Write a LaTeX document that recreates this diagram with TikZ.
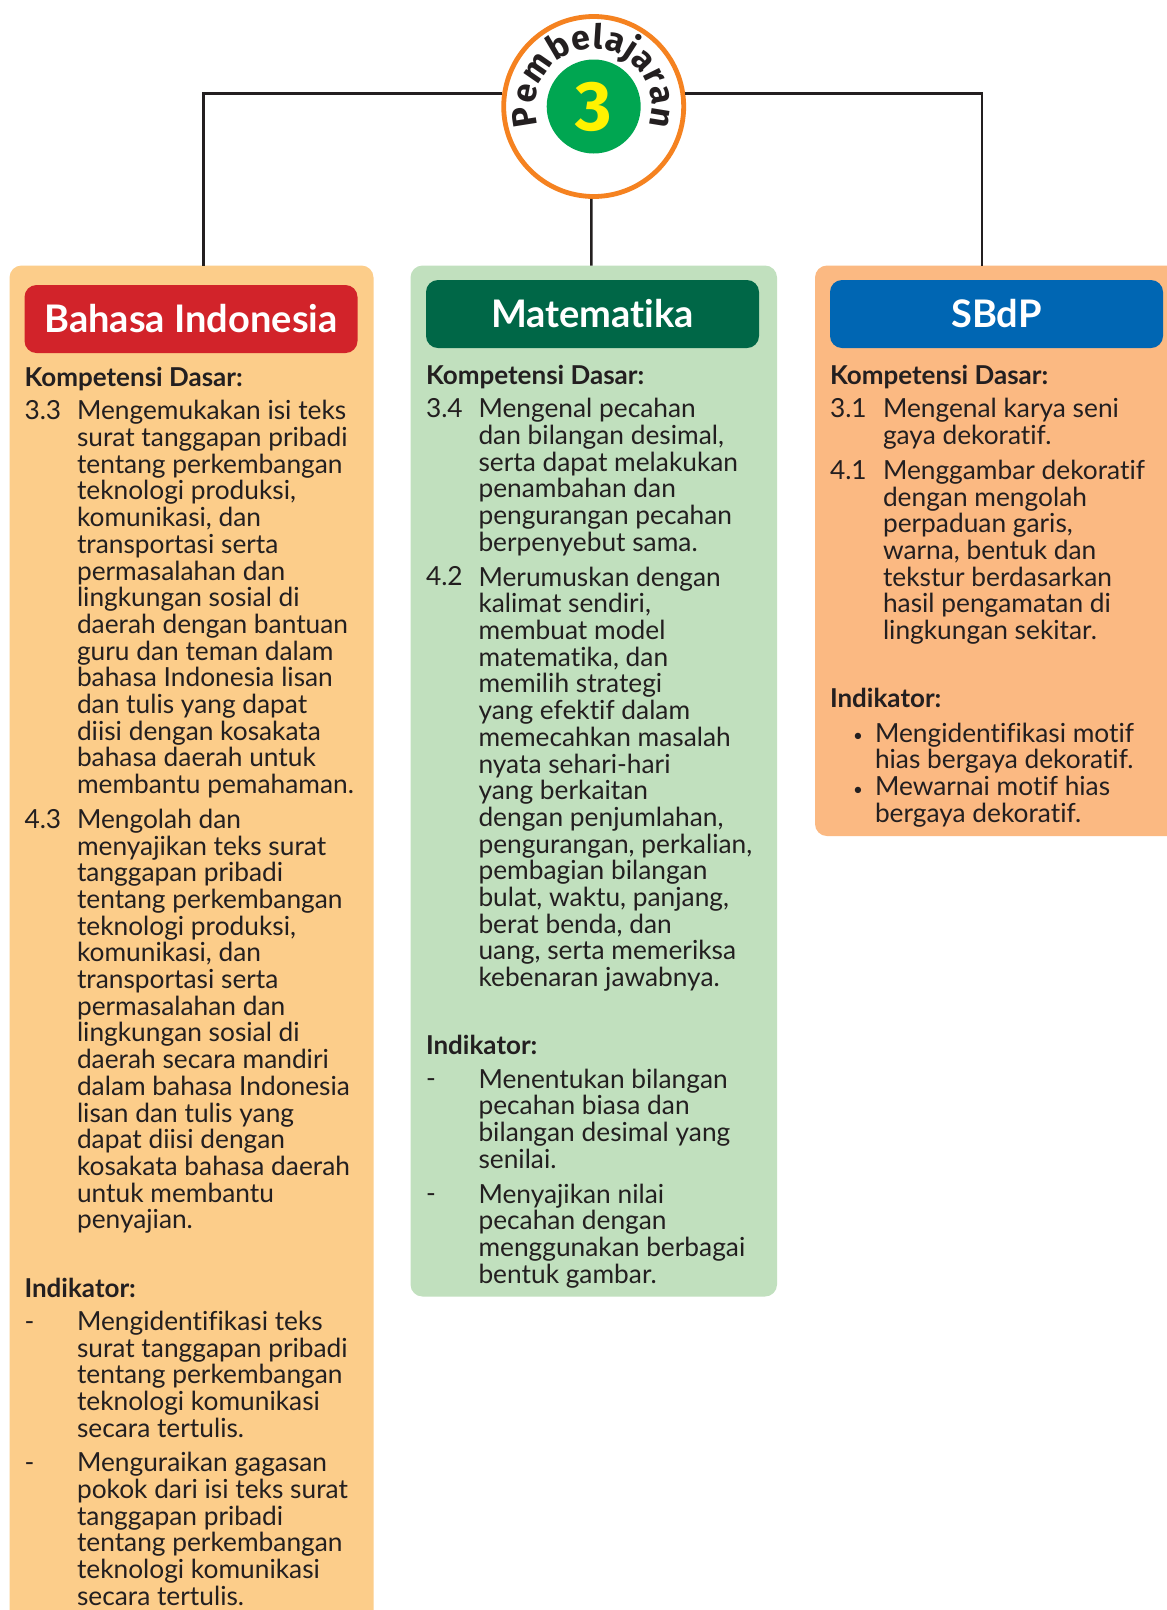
\documentclass[tikz,border=0pt]{standalone}
\usepackage{fontspec}
\setmainfont{Lato}[Ligatures=NoCommon]
\newfontfamily\arcfont{Fira Sans}
\usetikzlibrary{decorations.text,calc}
\definecolor{inkc}{HTML}{231F20}
\definecolor{panelA}{HTML}{FCCD8A}
\definecolor{panelB}{HTML}{C1E0BE}
\definecolor{panelC}{HTML}{FBB982}
\definecolor{headA}{HTML}{D2232A}
\definecolor{headB}{HTML}{006747}
\definecolor{headC}{HTML}{0066B3}
\definecolor{ringc}{HTML}{F58220}
\definecolor{numg}{HTML}{00A651}
\definecolor{numy}{HTML}{FFF200}
\newcommand{\fl}{\rule{0pt}{19pt}}
\tikzset{
  x=1pt,y=-1pt,
  panel/.style={rectangle,rounded corners=12pt,draw=none,inner sep=0,outer sep=0,anchor=north west},
  head/.style={rectangle,rounded corners=12pt,draw=none,inner sep=0,outer sep=0,text=white,font=\fontsize{38}{40}\selectfont\bfseries,minimum height=68pt},
  body/.style={inner sep=0,outer sep=0,anchor=north west,align=left,text=inkc,yshift=-2.5pt,font=\fontsize{26.3}{26.7}\selectfont},
  subhead/.style={body,font=\fontsize{26}{26.7}\selectfont\bfseries},
  dotitem/.style={body,font=\fontsize{17}{26.7}\selectfont},
  link/.style={draw=inkc,line width=2.6pt},
}
\begin{document}
\begin{tikzpicture}
\clip (0,0) rectangle (1167,1610);
\fill[white] (0,0) rectangle (1167,1610);
% panels
\node[panel,fill=panelA,minimum width=364pt,minimum height=1400pt] (colA) at (9.5,265.5) {};
\node[panel,fill=panelB,minimum width=366.5pt,minimum height=1031pt] (colB) at (410.5,265.5) {};
\node[panel,fill=panelC,minimum width=400pt,minimum height=570.5pt] (colC) at (815,265.5) {};
% heads
\node[head,fill=headA,minimum width=333pt] (headA) at (191,319) {\raisebox{-1pt}{Bahasa Indonesia}};
\node[head,fill=headB,minimum width=333pt] (headB) at (592.5,314) {Matematika};
\node[head,fill=headC,minimum width=333pt] (headC) at (996.5,314) {SBdP};
% hub
\node[circle,draw=ringc,fill=white,line width=4.8pt,minimum size=180pt,inner sep=0] (hub) at (593.7,106.5) {};
\node[circle,fill=numg,minimum size=94pt,inner sep=0,text=numy,font=\arcfont\fontsize{70}{70}\selectfont\bfseries] (num) at (593.7,106.5) {3};
\path[decorate,decoration={text along path,text align={fit to path},text={|\arcfont\fontsize{34}{36}\selectfont\bfseries\color{inkc}|Pembelajaran}}]
  (hub.center) ++(199:58pt) arc[start angle=199,end angle=-19,radius=58pt];
% connectors
\draw[link] ($(hub.west)+(1,-13)$) -| ([xshift=12pt]colA.north);
\draw[link] ($(hub.east)+(-1,-13)$) -| ([xshift=167pt]colC.north west);
\draw[link] ([xshift=-2.4pt]hub.south) -- ([xshift=-2.4pt]colB.north);
% column A
\node[subhead] (a1) at (24.5,365) {\fl Kompetensi Dasar:};
\node[body] (a2) at (24.5,398) {\fl 3.3};
\node[body] (a3) at (77,398) {\fl Mengemukakan isi teks\\surat tanggapan pribadi\\tentang perkembangan\\teknologi produksi,\\komunikasi, dan\\transportasi serta\\permasalahan dan\\lingkungan sosial di\\daerah dengan bantuan\\guru dan teman dalam\\bahasa Indonesia lisan\\dan tulis yang dapat\\diisi dengan kosakata\\bahasa daerah untuk\\membantu pemahaman.};
\node[body] (a4) at (24.5,806.5) {\fl 4.3};
\node[body] (a5) at (77,806.5) {\fl Mengolah dan\\menyajikan teks surat\\tanggapan pribadi\\tentang perkembangan\\teknologi produksi,\\komunikasi, dan\\transportasi serta\\permasalahan dan\\lingkungan sosial di\\daerah secara mandiri\\dalam bahasa Indonesia\\lisan dan tulis yang\\dapat diisi dengan\\kosakata bahasa daerah\\untuk membantu\\penyajian.};
\node[subhead] (a6) at (24.5,1275.5) {\fl Indikator:};
\node[body] (a7) at (24.5,1308.5) {\fl -};
\node[body] (a8) at (77,1308.5) {\fl Mengidentifikasi teks\\surat tanggapan pribadi\\tentang perkembangan\\teknologi komunikasi\\secara tertulis.};
\node[body] (a9) at (24.5,1450) {\fl -};
\node[body] (a10) at (77,1450) {\fl Menguraikan gagasan\\pokok dari isi teks surat\\tanggapan pribadi\\tentang perkembangan\\teknologi komunikasi\\secara tertulis.};
% column B
\node[subhead] (b1) at (426,363) {\fl Kompetensi Dasar:};
\node[body] (b2) at (426,396) {\fl 3.4};
\node[body] (b3) at (478.5,396) {\fl Mengenal pecahan\\dan bilangan desimal,\\serta dapat melakukan\\penambahan dan\\pengurangan pecahan\\berpenyebut sama.};
\node[body] (b4) at (426,564.3) {\fl 4.2};
\node[body] (b5) at (478.5,564.3) {\fl Merumuskan dengan\\kalimat sendiri,\\membuat model\\matematika, dan\\memilih strategi\\yang efektif dalam\\memecahkan masalah\\nyata sehari-hari\\yang berkaitan\\dengan penjumlahan,\\pengurangan, perkalian,\\pembagian bilangan\\bulat, waktu, panjang,\\berat benda, dan\\uang, serta memeriksa\\kebenaran jawabnya.};
\node[subhead] (b6) at (426,1032.4) {\fl Indikator:};
\node[body] (b7) at (426,1066.2) {\fl -};
\node[body] (b8) at (478.5,1066.2) {\fl Menentukan bilangan\\pecahan biasa dan\\bilangan desimal yang\\senilai.};
\node[body] (b9) at (426,1181.2) {\fl -};
\node[body] (b10) at (478.5,1181.2) {\fl Menyajikan nilai\\pecahan dengan\\menggunakan berbagai\\bentuk gambar.};
% column C
\node[subhead] (c1) at (830,363) {\fl Kompetensi Dasar:};
\node[body] (c2) at (830,396) {\fl 3.1};
\node[body] (c3) at (883,396) {\fl Mengenal karya seni\\gaya dekoratif.};
\node[body] (c4) at (830,457.5) {\fl 4.1};
\node[body] (c5) at (883,457.5) {\fl Menggambar dekoratif\\dengan mengolah\\perpaduan garis,\\warna, bentuk dan\\tekstur berdasarkan\\hasil pengamatan di\\lingkungan sekitar.};
\node[subhead] (c6) at (830,685.5) {\fl Indikator:};
\node[dotitem] (c7) at (853,720.3) {\fl •};
\node[body] (c8) at (875,720.3) {\fl Mengidentifikasi motif\\hias bergaya dekoratif.};
\node[dotitem] (c9) at (853,773.7) {\fl •};
\node[body] (c10) at (875,773.7) {\fl Mewarnai motif hias\\bergaya dekoratif.};
\end{tikzpicture}
\end{document}
